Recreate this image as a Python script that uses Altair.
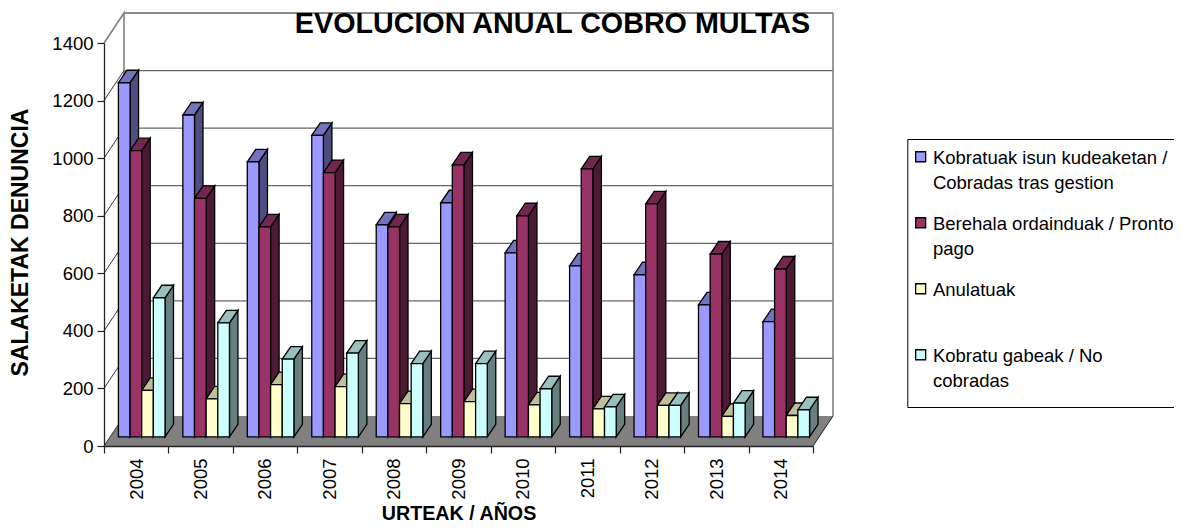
import altair as alt
import pandas as pd

years = ["2004","2005","2006","2007","2008","2009","2010","2011","2012","2013","2014"]
series = ["Kobratuak isun kudeaketan /|Cobradas tras gestion",
          "Berehala ordainduak / Pronto|pago",
          "Anulatuak",
          "Kobratu gabeak / No|cobradas"]
blue = [1230,1118,955,1047,736,813,639,594,563,458,400]
red = [994,828,729,918,729,945,768,931,809,635,583]
yellow = [161,132,181,174,115,122,111,97,109,71,74]
cyan = [483,396,270,291,254,254,167,104,109,117,94]
front_colors = ["#9999FF","#993366","#FFFFCC","#CCFFFF"]
side_colors = ["#4D4D80","#4D1A33","#808066","#668080"]
top_colors = ["#7373BF","#732650","#BFBF99","#99BFBF"]
ticks_y = [0,200,400,600,800,1000,1200,1400]

PXX = 709/11
PXY = 403/1400
W_BACK, H_BACK = 20/PXX, 30/PXY
BAR0, BASE = 14.4/PXX, 9.2/PXY
BW = 11.65/PXX
DX, DY = 8.5/PXX, 12.5/PXY

front, side, top = [], [], []
for s, vals in enumerate([blue, red, yellow, cyan]):
    for i, v in enumerate(vals):
        xl = i + BAR0 + s*BW
        xr = xl + BW
        key = f"{s}-{i}"
        b, t = BASE, BASE + v
        front.append(dict(xl=xl, xr=xr, b=b, t=t, series=series[s], year=years[i]))
        side += [dict(k=key, x=xr, y=b, y2=t, c=side_colors[s]),
                 dict(k=key, x=xr+DX, y=b+DY, y2=t+DY, c=side_colors[s])]
        top += [dict(k=key, x=xl, y=t, y2=t, c=top_colors[s]),
                dict(k=key, x=xl+DX, y=t, y2=t+DY, c=top_colors[s]),
                dict(k=key, x=xr, y=t, y2=t+DY, c=top_colors[s]),
                dict(k=key, x=xr+DX, y=t+DY, y2=t+DY, c=top_colors[s])]
front, side, top = map(pd.DataFrame, (front, side, top))

FONT = "Liberation Sans"
xs = alt.Scale(domain=[0, 11], nice=False)
ys = alt.Scale(domain=[0, 1400], nice=False)
x_axis = alt.Axis(
    values=list(range(12)), title="URTEAK / AÑOS", titleFont=FONT, titleFontSize=19.7,
    titleFontWeight="bold", titleColor="black", titlePadding=4, labelFont=FONT,
    labelFontSize=18.5, labelColor="black", labelAngle=270, labelAlign="right",
    labelBaseline="middle", labelOffset=32, labelPadding=5, labelOverlap=False,
    labelExpr=f"datum.value<11 ? {years}[datum.value] : ''", tickColor="#222222", tickSize=7,
    tickWidth=1.2, domainColor="#222222", domainWidth=1.3, grid=False, zindex=1)
y_axis = alt.Axis(
    values=ticks_y, format="d", title="SALAKETAK  DENUNCIA", titleFont=FONT, titleFontSize=23,
    titleFontWeight="bold", titleColor="black", titleAnchor="middle", titleY=199, titleX=-71.5,
    labelFont=FONT, labelFontSize=18.5, labelColor="black", labelPadding=4, tickColor="#222222",
    tickSize=7, tickWidth=1.2, domainColor="#222222", domainWidth=1.3, grid=False, zindex=1)
X = lambda f: alt.X(f, type="quantitative", scale=xs, axis=x_axis)
Y = lambda f: alt.Y(f, type="quantitative", scale=ys, axis=y_axis, stack=None)

floor = alt.Chart(pd.DataFrame({"x": [0, W_BACK, 11, 11+W_BACK], "y": [0, 0, 0, H_BACK],
                                "y2": [0, H_BACK, H_BACK, H_BACK]})).mark_area(color="#808080").encode(
    x=X("x"), y=Y("y"), y2="y2:Q")

grid_df = pd.DataFrame([dict(k=v, x=W_BACK, y=v+H_BACK) for v in ticks_y[1:]] +
                       [dict(k=v, x=11+W_BACK, y=v+H_BACK) for v in ticks_y[1:]])
grid = alt.Chart(grid_df).mark_line(color="#666666", strokeWidth=1.3).encode(x=X("x"), y=Y("y"), detail="k:N")

diag_df = pd.DataFrame([dict(k=v, x=0, y=v) for v in ticks_y[:-1]] +
                       [dict(k=v, x=W_BACK, y=v+H_BACK) for v in ticks_y[:-1]])
diag = alt.Chart(diag_df).mark_line(color="#333333", strokeWidth=1).encode(x=X("x"), y=Y("y"), detail="k:N")

wall_df = pd.DataFrame([dict(k="l", o=0, x=0, y=1400), dict(k="l", o=1, x=W_BACK, y=1400+H_BACK),
                        dict(k="l", o=2, x=W_BACK, y=H_BACK),
                        dict(k="r", o=0, x=11+W_BACK, y=1400+H_BACK), dict(k="r", o=1, x=11+W_BACK, y=H_BACK)])
wall = alt.Chart(wall_df).mark_line(color="#808080", strokeWidth=1.6).encode(
    x=X("x"), y=Y("y"), detail="k:N", order="o:Q")
edge_df = pd.DataFrame([dict(o=0, x=11, y=0), dict(o=1, x=11+W_BACK, y=H_BACK)])
edge = alt.Chart(edge_df).mark_line(color="#222222", strokeWidth=1).encode(x=X("x"), y=Y("y"), order="o:Q")

sides = alt.Chart(side).mark_area(stroke="black", strokeWidth=1.3, strokeJoin="miter").encode(
    x=X("x"), y=Y("y"), y2="y2:Q", color=alt.Color("c:N", scale=None), detail="k:N")
tops = alt.Chart(top).mark_area(stroke="black", strokeWidth=1.3, strokeJoin="miter").encode(
    x=X("x"), y=Y("y"), y2="y2:Q", color=alt.Color("c:N", scale=None), detail="k:N")
fronts = alt.Chart(front).mark_rect(stroke="black", strokeWidth=1.3).encode(
    x=X("xl"), x2="xr:Q", y=Y("b"), y2="t:Q",
    fill=alt.Fill("series:N", scale=alt.Scale(domain=series, range=front_colors), legend=alt.Legend(
        orient="none", legendX=803.3, legendY=96, title=None, columns=1, gridAlign="all",
        rowPadding=22, padding=16, symbolOffset=-11.9, strokeColor="black", fillColor="white",
        symbolType="M-1,-2.5H1V-0.5H-1Z", symbolSize=100, symbolStrokeColor="black", symbolStrokeWidth=1.3,
        labelFont=FONT, labelFontSize=18.5, labelColor="black", labelLimit=400,
        labelBaseline="alphabetic", labelOffset=3, labelExpr="split(datum.label,'|')")))

chart = alt.layer(floor, grid, wall, diag, edge, sides, tops, fronts).properties(
    width=709, height=403,
    padding={"left": 96, "top": 35, "right": 361, "bottom": 78},
    autosize=alt.AutoSizeParams(type="none"),
    background="white",
    title=alt.TitleParams("EVOLUCION ANUAL COBRO MULTAS", font=FONT, fontSize=28.7, fontWeight="bold",
                          color="black", anchor="middle", dx=94, dy=29, offset=0),
).configure(view=alt.ViewConfig(stroke=None), style={"guide-label": {"lineHeight": 25}})

chart.save("out.html", embed_options={"renderer": "svg", "actions": False})
